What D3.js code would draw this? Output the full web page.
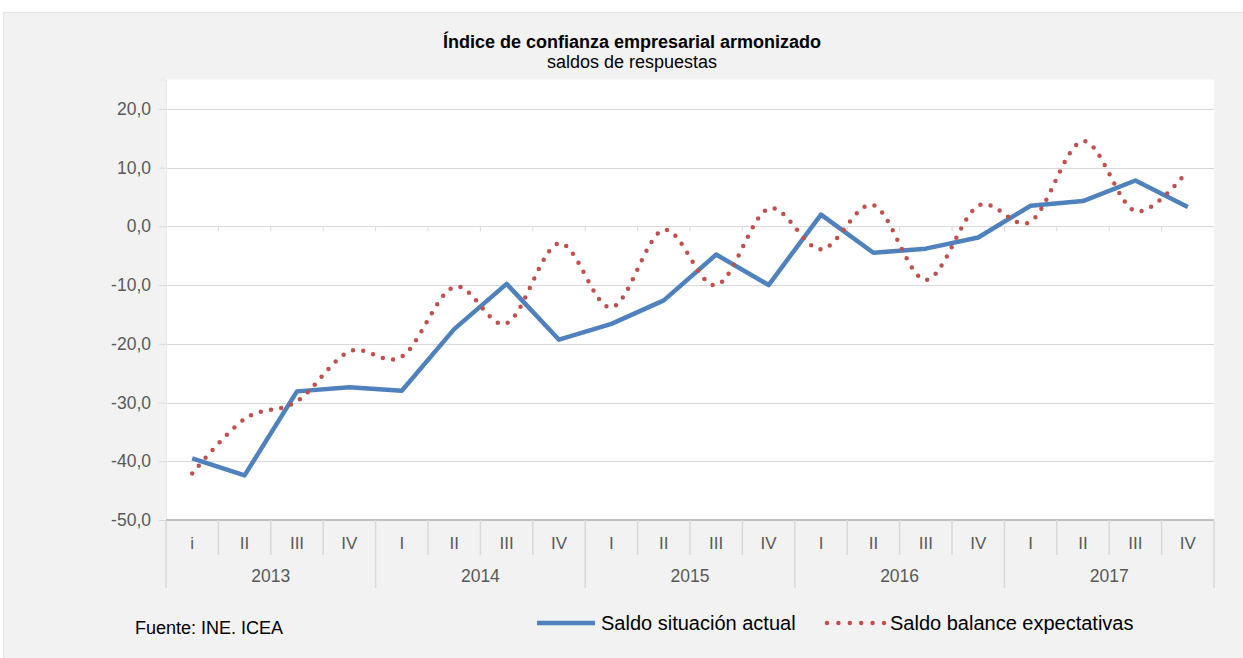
<!DOCTYPE html>
<html>
<head>
<meta charset="utf-8">
<script src="https://cdn.jsdelivr.net/npm/d3@7"></script>
<style>
  body { margin: 0; background: #fff; }
  svg { display: block; font-family: Arial, "Liberation Sans", sans-serif; }
</style>
</head>
<body>
<div id="chart"></div>
<script>
// data
var years = ['2013', '2014', '2015', '2016', '2017'];
var quarters = ['i', 'II', 'III', 'IV', 'I', 'II', 'III', 'IV', 'I', 'II', 'III', 'IV',
                'I', 'II', 'III', 'IV', 'I', 'II', 'III', 'IV'];
var actual = [-39.5, -42.4, -28.1, -27.4, -28.0, -17.5, -9.8, -19.3, -16.6, -12.6,
              -4.8, -10.0, 2.0, -4.5, -3.8, -1.9, 3.5, 4.3, 7.8, 3.3];
var expect = [-42.1, -32.8, -29.8, -21.3, -22.2, -10.3, -16.5, -2.9, -13.8, -0.6,
              -10.0, 3.0, -3.9, 3.6, -9.1, 3.5, 0.8, 14.5, 2.6, 9.5];
var yTicks = [-50, -40, -30, -20, -10, 0, 10, 20];

var width = 1243, height = 658;
var plotL = 166, plotR = 1214, plotT = 79.5, plotB = 520;

var svg = d3.select('#chart').append('svg')
  .attr('width', width)
  .attr('height', height);

// chart background
svg.append('rect')
  .attr('x', 3.5).attr('y', 12.5)
  .attr('width', width - 3).attr('height', height - 12)
  .attr('fill', '#f2f2f2')
  .attr('stroke', '#e4e4e4');

// plot area
svg.append('rect')
  .attr('x', plotL).attr('y', plotT)
  .attr('width', plotR - plotL).attr('height', plotB - plotT)
  .attr('fill', '#fff');

var x = d3.scaleBand()
  .domain(d3.range(quarters.length))
  .range([plotL, plotR])
  .padding(0);

var y = d3.scaleLinear()
  .domain([-50, 25])
  .range([plotB, plotT]);

var loc = d3.formatLocale({decimal: ',', thousands: '.', grouping: [3], currency: ['', '€'], minus: '-'});
var fmt = loc.format('.1f');

// gridlines
svg.append('g')
  .selectAll('line')
  .data(yTicks.filter(function(d){ return d > -50; }))
  .enter()
  .append('line')
  .attr('x1', plotL).attr('x2', plotR)
  .attr('y1', function(d){ return Math.round(y(d)) + 0.5; })
  .attr('y2', function(d){ return Math.round(y(d)) + 0.5; })
  .attr('stroke', '#d9d9d9')
  .attr('stroke-width', 1.2);

// y axis
var yAxis = svg.append('g')
  .attr('transform', 'translate(' + plotL + ',0)')
  .call(d3.axisLeft(y).tickValues(yTicks).tickFormat(fmt).tickSize(7).tickPadding(8));
yAxis.select('.domain').attr('stroke', '#ebe9e0');
yAxis.selectAll('.tick line').attr('stroke', '#d9d9d9');
yAxis.selectAll('.tick text')
  .attr('fill', '#595959')
  .attr('font-size', 17.5)
  .attr('font-family', 'Arial, "Liberation Sans", sans-serif');

// tick marks on the zero line
svg.append('g')
  .selectAll('line')
  .data(d3.range(1, quarters.length))
  .enter()
  .append('line')
  .attr('x1', function(d){ return x(d); })
  .attr('x2', function(d){ return x(d); })
  .attr('y1', y(0)).attr('y2', y(0) + 5)
  .attr('stroke', '#d9d9d9');

// category axis (bottom, two levels)
svg.append('line')
  .attr('x1', plotL).attr('x2', plotR)
  .attr('y1', plotB).attr('y2', plotB)
  .attr('stroke', '#bfbfbf')
  .attr('stroke-width', 2);

svg.append('g')
  .selectAll('line')
  .data(d3.range(quarters.length + 1))
  .enter()
  .append('line')
  .attr('x1', function(d){ return d < quarters.length ? x(d) : plotR; })
  .attr('x2', function(d){ return d < quarters.length ? x(d) : plotR; })
  .attr('y1', plotB)
  .attr('y2', function(d){ return d % 4 === 0 ? 588 : 555; })
  .attr('stroke', '#d9d9d9')
  .attr('stroke-width', 1.5);

svg.append('g')
  .selectAll('text')
  .data(quarters)
  .enter()
  .append('text')
  .text(function(d){ return d; })
  .attr('x', function(d, i){ return x(i) + x.bandwidth() / 2; })
  .attr('y', 549)
  .attr('font-size', 17)
  .attr('fill', '#595959')
  .attr('text-anchor', 'middle');

svg.append('g')
  .selectAll('text')
  .data(years)
  .enter()
  .append('text')
  .text(function(d){ return d; })
  .attr('x', function(d, i){ return x(i * 4) + x.bandwidth() * 2; })
  .attr('y', 582)
  .attr('font-size', 17.5)
  .attr('fill', '#595959')
  .attr('text-anchor', 'middle');

// series
var cx = function(d, i){ return x(i) + x.bandwidth() / 2; };

svg.append('path')
  .datum(actual)
  .attr('d', d3.line().x(cx).y(function(d){ return y(d); }))
  .attr('fill', 'none')
  .attr('stroke', '#4f81bd')
  .attr('stroke-width', 4.5)
  .attr('stroke-linejoin', 'round');

svg.append('path')
  .datum(expect)
  .attr('d', d3.line().x(cx).y(function(d){ return y(d); }).curve(d3.curveCardinal.tension(0)))
  .attr('fill', 'none')
  .attr('stroke', '#c0504d')
  .attr('stroke-width', 4.5)
  .attr('stroke-linecap', 'round')
  .attr('stroke-dasharray', '0 10.4');

// titles
svg.append('text')
  .text('Índice de confianza empresarial armonizado')
  .attr('x', 632).attr('y', 48)
  .attr('text-anchor', 'middle')
  .attr('font-size', 18)
  .attr('font-weight', 'bold');

svg.append('text')
  .text('saldos de respuestas')
  .attr('x', 632).attr('y', 68)
  .attr('text-anchor', 'middle')
  .attr('font-size', 18);

// source
svg.append('text')
  .text('Fuente: INE. ICEA')
  .attr('x', 135).attr('y', 634)
  .attr('font-size', 18);

// legend
var legend = svg.append('g');
legend.append('line')
  .attr('x1', 537).attr('x2', 595)
  .attr('y1', 623).attr('y2', 623)
  .attr('stroke', '#4f81bd')
  .attr('stroke-width', 4.5);
legend.append('text')
  .text('Saldo situación actual')
  .attr('x', 601).attr('y', 630)
  .attr('font-size', 20);
legend.append('line')
  .attr('x1', 827).attr('x2', 886)
  .attr('y1', 623).attr('y2', 623)
  .attr('stroke', '#c0504d')
  .attr('stroke-width', 4.5)
  .attr('stroke-linecap', 'round')
  .attr('stroke-dasharray', '0 11.4');
legend.append('text')
  .text('Saldo balance expectativas')
  .attr('x', 890).attr('y', 630)
  .attr('font-size', 20);
</script>
</body>
</html>
